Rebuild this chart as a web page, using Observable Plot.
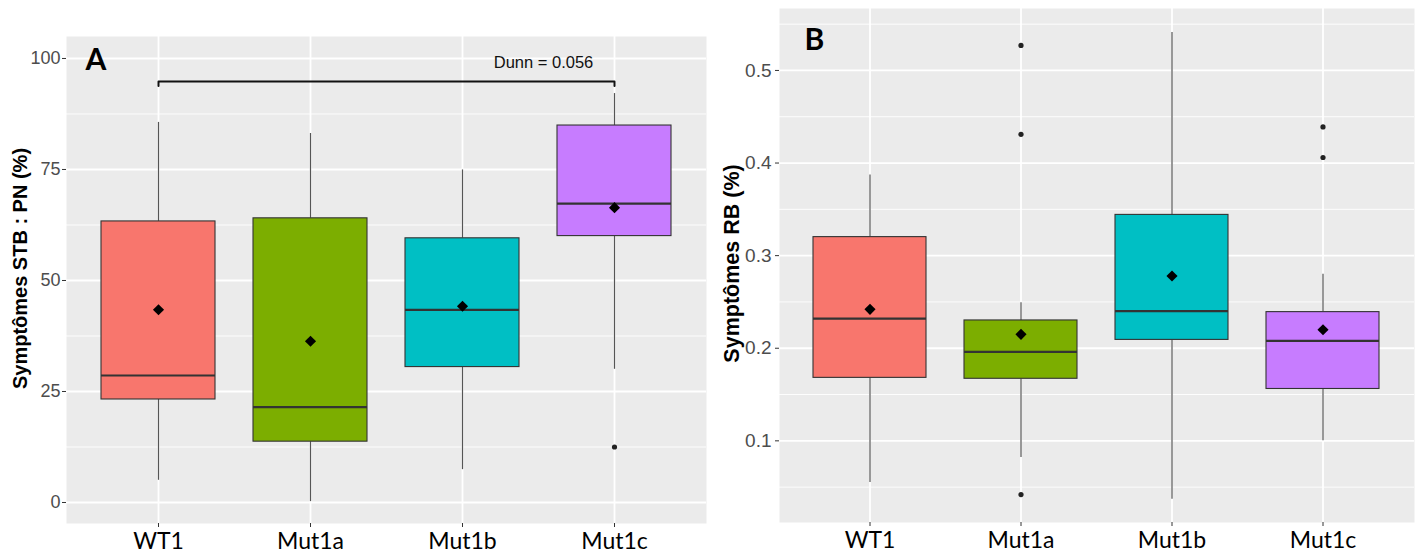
<!DOCTYPE html>
<html><head><meta charset="utf-8">
<script src="https://cdn.jsdelivr.net/npm/d3@7"></script>
<script src="https://cdn.jsdelivr.net/npm/@observablehq/plot@0.6"></script>
<style>
body{margin:0;background:#fff;}
#wrap{position:relative;width:1422px;height:557px;overflow:hidden;background:#fff;}
#wrap svg{position:absolute;top:0;}
</style></head><body><div id="wrap"></div>
<script>
const groups = ["WT1", "Mut1a", "Mut1b", "Mut1c"];
const fillColors = ["#F8766D", "#7CAE00", "#00BFC4", "#C77CFF"];

// Panel A : Symptômes STB : PN (%)
const aLow    = [5.0, 0.2, 7.4, 30.0];
const aQ1     = [23.2, 13.7, 30.5, 60.0];
const aMedian = [28.6, 21.5, 43.4, 67.3];
const aQ3     = [63.3, 64.0, 59.5, 84.9];
const aHigh   = [85.6, 83.1, 74.9, 92.1];
const aMean   = [43.4, 36.3, 44.2, 66.4];
const aOutGroup = ["Mut1c"];
const aOutValue = [12.5];
const aTicks = [0, 25, 50, 75, 100];
const aMinor = [12.5, 37.5, 62.5, 87.5];
const aBracketGroups = ["WT1", "WT1", "Mut1c", "Mut1c"];
const aBracketValues = [93.8, 94.8, 94.8, 93.8];
const aBracketLabel = "Dunn = 0.056";

// Panel B : Symptômes RB (%)
const bLow    = [0.055, 0.082, 0.037, 0.100];
const bQ1     = [0.168, 0.167, 0.209, 0.156];
const bMedian = [0.232, 0.196, 0.240, 0.208];
const bQ3     = [0.320, 0.230, 0.344, 0.239];
const bHigh   = [0.387, 0.249, 0.541, 0.280];
const bMean   = [0.242, 0.215, 0.278, 0.220];
const bOutGroup = ["Mut1a", "Mut1a", "Mut1a", "Mut1c", "Mut1c"];
const bOutValue = [0.527, 0.431, 0.042, 0.439, 0.406];
const bTicks = [0.1, 0.2, 0.3, 0.4, 0.5];
const bMinor = [0.05, 0.15, 0.25, 0.35, 0.45, 0.55];

function rowsOf(low, q1, med, q3, high, mean) {
  return groups.map((g, i) => ({g, low: low[i], q1: q1[i], med: med[i], q3: q3[i], high: high[i], mean: mean[i]}));
}

function panel(cfg) {
  const rows = rowsOf(...cfg.stats);
  const outs = cfg.outGroup.map((g, i) => ({g, v: cfg.outValue[i]}));
  const marks = [
    Plot.frame({fill: "#EBEBEB", stroke: "none"}),
    Plot.gridY(cfg.minor, {stroke: "white", strokeOpacity: 1, strokeWidth: 0.9}),
    Plot.gridY(cfg.ticks, {stroke: "white", strokeOpacity: 1, strokeWidth: 1.8}),
    Plot.gridX(groups, {stroke: "white", strokeOpacity: 1, strokeWidth: 1.8}),
    Plot.ruleX(rows, {x: "g", y1: "low", y2: "q1", stroke: "#555", strokeWidth: 1.2}),
    Plot.ruleX(rows, {x: "g", y1: "q3", y2: "high", stroke: "#555", strokeWidth: 1.2}),
    Plot.barY(rows, {x: "g", y1: "q1", y2: "q3", fill: "g", stroke: "#333", strokeWidth: 1.1}),
    Plot.tickY(rows, {x: "g", y: "med", stroke: "#333", strokeWidth: 2.2}),
    Plot.dot(outs, {x: "g", y: "v", r: 2.6, fill: "#222", stroke: "none"}),
    Plot.dot(rows, {x: "g", y: "mean", symbol: "diamond2", r: 5, fill: "black", stroke: "none"}),
    Plot.axisY({ticks: cfg.ticks, tickFormat: cfg.fmt, tickSize: 4, tickPadding: cfg.tickPad, fontSize: cfg.tickFont,
                fill: "#4D4D4D", stroke: "#333", label: null}),
    Plot.axisX({tickSize: 4, tickPadding: 5.5, fontSize: 23, fontFamily: "Lato", fill: "#000", stroke: "#333", label: null}),
    Plot.text([cfg.title], {frameAnchor: "left", rotate: -90, textAnchor: "middle", lineAnchor: "middle",
               dx: cfg.titleDx, dy: cfg.titleDy, fontWeight: "bold", fontSize: cfg.titleFont, fill: "#000"}),
    Plot.text([cfg.letter], {frameAnchor: "top-left", textAnchor: "start", lineAnchor: "top",
               dx: cfg.letterDx, dy: cfg.letterDy, fontFamily: "Lato", fontWeight: "bold", fontSize: 30, fill: "#000"})
  ];
  if (cfg.extra) marks.push(...cfg.extra);
  return Plot.plot({
    width: cfg.width, height: 557,
    marginLeft: cfg.ml, marginRight: cfg.mr, marginTop: cfg.mt, marginBottom: cfg.mb,
    style: {fontFamily: "'Liberation Sans', Arial, sans-serif", background: "transparent", overflow: "visible"},
    x: {type: "band", domain: groups, paddingInner: 0.25, paddingOuter: 0.225, align: 0.5},
    y: {domain: cfg.domain},
    color: {type: "ordinal", domain: groups, range: fillColors},
    marks
  });
}

const bracket = aBracketGroups.map((g, i) => ({g, v: aBracketValues[i]}));

const svgA = panel({
  stats: [aLow, aQ1, aMedian, aQ3, aHigh, aMean],
  outGroup: aOutGroup, outValue: aOutValue,
  ticks: aTicks, minor: aMinor, fmt: d => String(d), tickPad: 2, tickFont: 18,
  domain: [-4.73, 104.95],
  width: 710, ml: 66, mr: 4, mt: 36, mb: 34,
  title: "Symptômes STB : PN (%)", titleDx: -46, titleDy: -11.5, titleFont: 20,
  letter: "A", letterDx: 19, letterDy: 12,
  extra: [
    Plot.line(bracket, {x: "g", y: "v", stroke: "#111", strokeWidth: 2}),
    Plot.text([aBracketLabel], {x: () => "Mut1c", y: () => 99.05, dx: -71, textAnchor: "middle", lineAnchor: "middle",
               fontSize: 16.5, fill: "#111"})
  ]
});
svgA.style.left = "0px";

const svgB = panel({
  stats: [bLow, bQ1, bMedian, bQ3, bHigh, bMean],
  outGroup: bOutGroup, outValue: bOutValue,
  ticks: bTicks, minor: bMinor, fmt: d3.format(".1f"), tickPad: 4, tickFont: 19,
  domain: [0.0118, 0.5669],
  width: 722, ml: 79, mr: 8, mt: 8, mb: 35,
  title: "Symptômes RB (%)", titleDx: -47, titleDy: -2, titleFont: 21.5,
  letter: "B", letterDx: 25, letterDy: 20
});
svgB.style.left = "700px";

document.getElementById("wrap").append(svgA, svgB);
</script>
</body></html>
